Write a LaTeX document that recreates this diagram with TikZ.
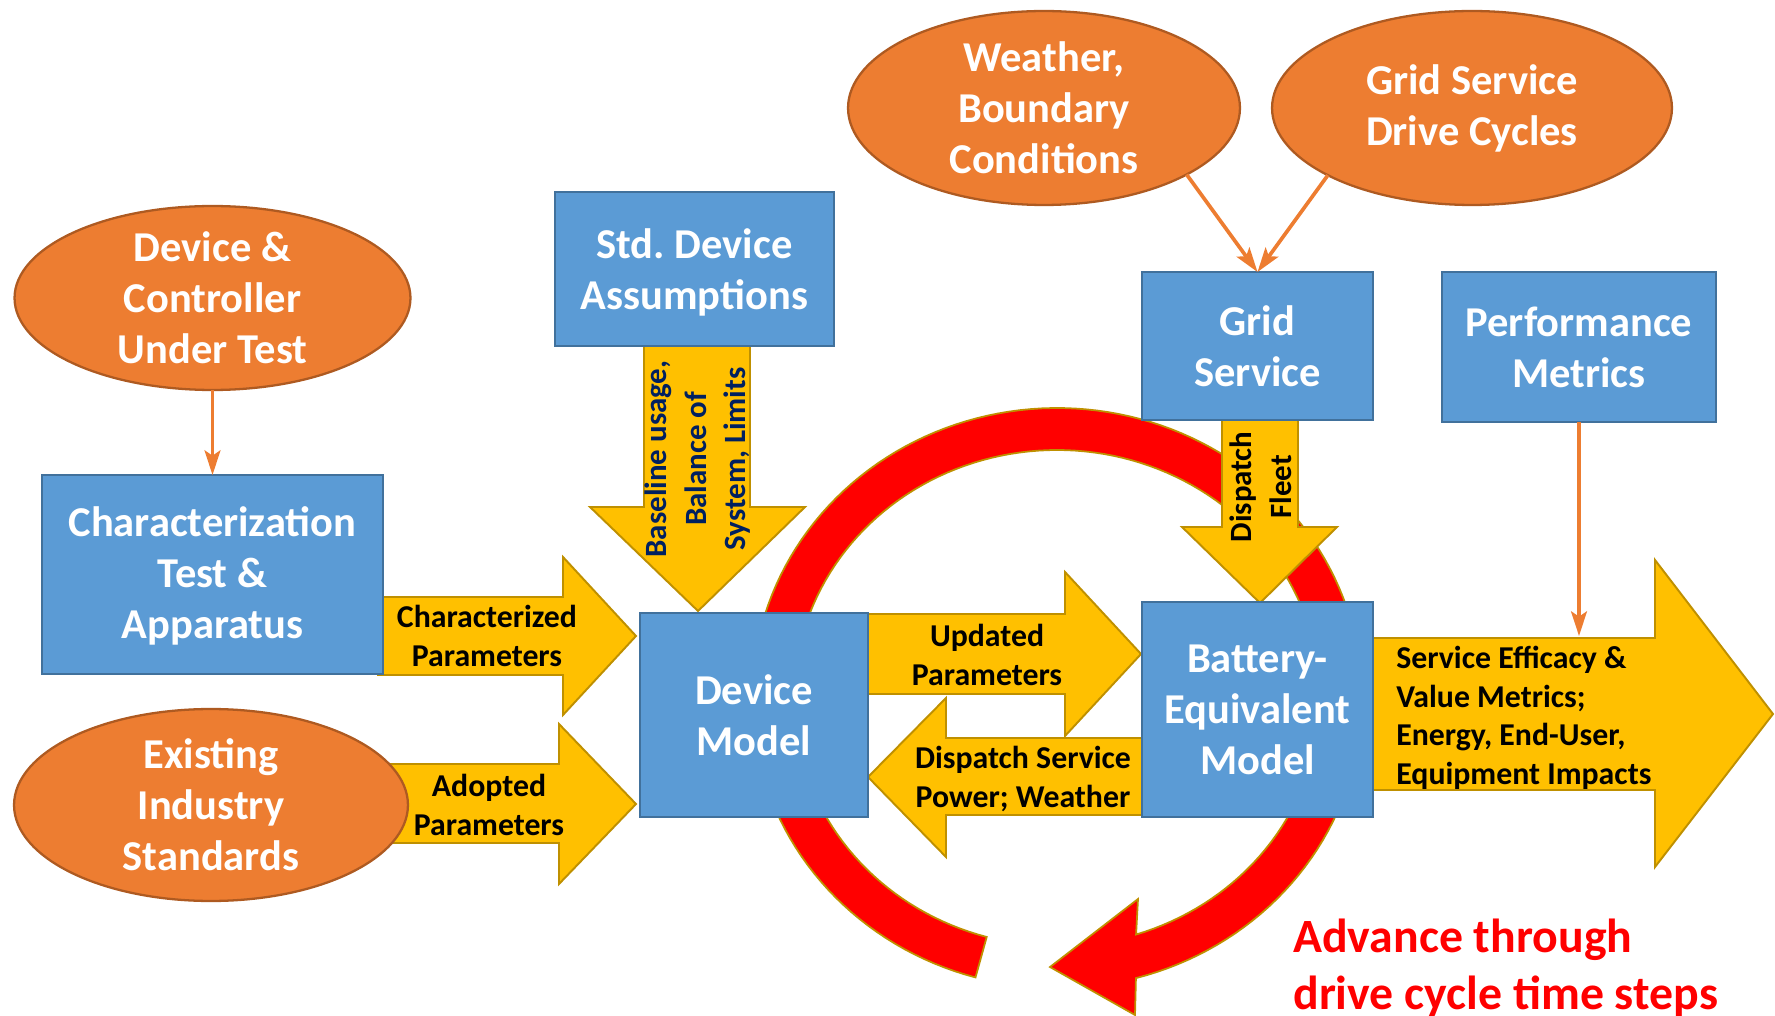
\documentclass[tikz,border=0pt]{standalone}
\usepackage{fontspec}
\setmainfont{Carlito}
\usetikzlibrary{arrows.meta,shapes.geometric}

\definecolor{boxblue}{HTML}{5B9BD5}
\definecolor{boxedge}{HTML}{41719C}
\definecolor{ovalfill}{HTML}{ED7D31}
\definecolor{ovaledge}{HTML}{AE5A21}
\definecolor{arrowfill}{HTML}{FFC000}
\definecolor{arrowedge}{HTML}{BF9000}
\definecolor{cyclered}{HTML}{FF0000}
\definecolor{navytext}{HTML}{002060}

\newcommand\bigbold{\fontsize{24.2}{29}\selectfont\bfseries}

\begin{document}
\begin{tikzpicture}[x=0.02cm, y=-0.02cm,
  box/.style={draw=boxedge, fill=boxblue, line width=1.4pt, text=white,
    font=\bigbold, align=center, inner sep=0pt, outer sep=0pt},
  oval/.style={ellipse, draw=ovaledge, fill=ovalfill, line width=1.3pt,
    inner sep=0pt, outer sep=0pt},
  ovaltext/.style={text=white, font=\bigbold, align=center, inner sep=0pt},
  blockarrow/.style={fill=arrowfill, draw=arrowedge, line width=1.1pt, line join=miter},
  arrowlabel/.style={font=\fontsize{18.1}{21.9}\selectfont\bfseries, align=center,
    text=black, inner sep=0pt},
  sidelabel/.style={font=\fontsize{17.6}{22.5}\selectfont\bfseries,
    align=center, rotate=90, inner sep=0pt},
  feed/.style={draw=ovalfill, line width=2.1pt, -{Stealth[length=14pt,width=9pt,inset=3pt]}}
]
\useasboundingbox (0,0) rectangle (1775,1016);

% time-step cycle arrow (drawn first, so boxes sit on top of it)
\filldraw[fill=cyclered, draw=arrowedge, line width=1pt, line join=miter]
  plot[domain=105.5:435, samples=160] ({1057+305*cos(\x)}, {698+290*sin(\x)})
  -- (1135,1015) -- (1050,967) -- (1138,899)
  -- plot[domain=432.5:105.5, samples=160] ({1057+263*cos(\x)}, {698+248*sin(\x)})
  -- cycle;

% block arrows
\filldraw[blockarrow] (378,597) -- (563,597) -- (563,557) -- (636,636)
  -- (563,715) -- (563,675) -- (378,675) -- cycle;
\filldraw[blockarrow] (370,764) -- (559,764) -- (559,724) -- (636,804)
  -- (559,884) -- (559,843) -- (370,843) -- cycle;
\filldraw[blockarrow] (644,340) -- (644,507) -- (590,507) -- (698,611)
  -- (805,507) -- (750,507) -- (750,340) -- cycle;
\filldraw[blockarrow] (866,614) -- (1065,614) -- (1065,572) -- (1141,654)
  -- (1065,736) -- (1065,694) -- (866,694) -- cycle;
\filldraw[blockarrow] (1143,738) -- (946,738) -- (946,698) -- (868,777)
  -- (946,857) -- (946,815) -- (1143,815) -- cycle;
\filldraw[blockarrow] (1222,415) -- (1222,527) -- (1182,527) -- (1260,603)
  -- (1337,527) -- (1298,527) -- (1298,415) -- cycle;
\filldraw[blockarrow] (1373,638) -- (1655,638) -- (1655,560) -- (1773,714)
  -- (1655,867) -- (1655,790) -- (1373,790) -- cycle;

% inputs
\node[oval, minimum width=7.92cm, minimum height=3.68cm] (dut) at (212.5,298) {};
\node[ovaltext] at (dut) {Device \&\\Controller\\Under Test};
\node[oval, minimum width=7.88cm, minimum height=3.84cm] (standards) at (211,805) {};
\node[ovaltext] at (standards) {Existing\\Industry\\Standards};
\node[oval, minimum width=7.84cm, minimum height=3.88cm] (weather) at (1044,108) {};
\node[ovaltext] at (weather) {Weather,\\Boundary\\Conditions};
\node[oval, minimum width=8.0cm, minimum height=3.88cm] (cycles) at (1472,108) {};
\node[ovaltext] at (cycles) {Grid Service\\Drive Cycles};

% models and process blocks
\node[box, minimum width=6.82cm, minimum height=3.98cm] (char) at (212.5,574.5)
  {\rule{0pt}{18.6pt}Characterization\\Test \&\\Apparatus};
\node[box, minimum width=5.58cm, minimum height=3.08cm] (std) at (694.5,269)
  {\rule{0pt}{21pt}Std.\ Device\\Assumptions};
\node[box, minimum width=4.56cm, minimum height=4.08cm] (device) at (754,715)
  {Device\\Model};
\node[box, minimum width=4.62cm, minimum height=2.96cm] (grid) at (1257.5,346)
  {Grid\\Service};
\node[box, minimum width=5.48cm, minimum height=3.0cm] (perf) at (1579,347)
  {Performance\\Metrics};
\node[box, minimum width=4.62cm, minimum height=4.30cm] (battery) at (1257.5,709.5)
  {Battery-\\Equivalent\\Model};

% block arrow labels
\node[arrowlabel] (charparams) at (487,636) {Characterized\\Parameters};
\node[arrowlabel] (adopted) at (489,805) {Adopted\\Parameters};
\node[arrowlabel] (updated) at (987,655) {Updated\\Parameters};
\node[arrowlabel] (dispatchsvc) at (1023,779) {Dispatch Service\\Power; Weather};
\node[arrowlabel, align=left, anchor=west] (metrics) at (1396,718)
  {Service Efficacy \&\\Value Metrics;\\Energy, End-User,\\Equipment Impacts};
\node[sidelabel, text=navytext] (baseline) at (698,459)
  {Baseline usage,\\Balance of\\System, Limits};
\node[sidelabel, text=black] (fleet) at (1261,487) {Dispatch\\Fleet};

\node[font=\fontsize{27.2}{32.4}\selectfont\bfseries, text=cyclered, align=left,
  anchor=west, inner sep=0pt] (advance) at (1293,968)
  {Advance through\\drive cycle time steps};

% feeds
\coordinate (perfend) at (1579,636);
\draw[feed] (dut.south) -- (char.north);
\draw[feed] (weather.-25.7) -- (grid.north);
\draw[feed] (cycles.205.3) -- (grid.north);
\draw[feed] (perf.south) -- (perfend);
\end{tikzpicture}
\end{document}
